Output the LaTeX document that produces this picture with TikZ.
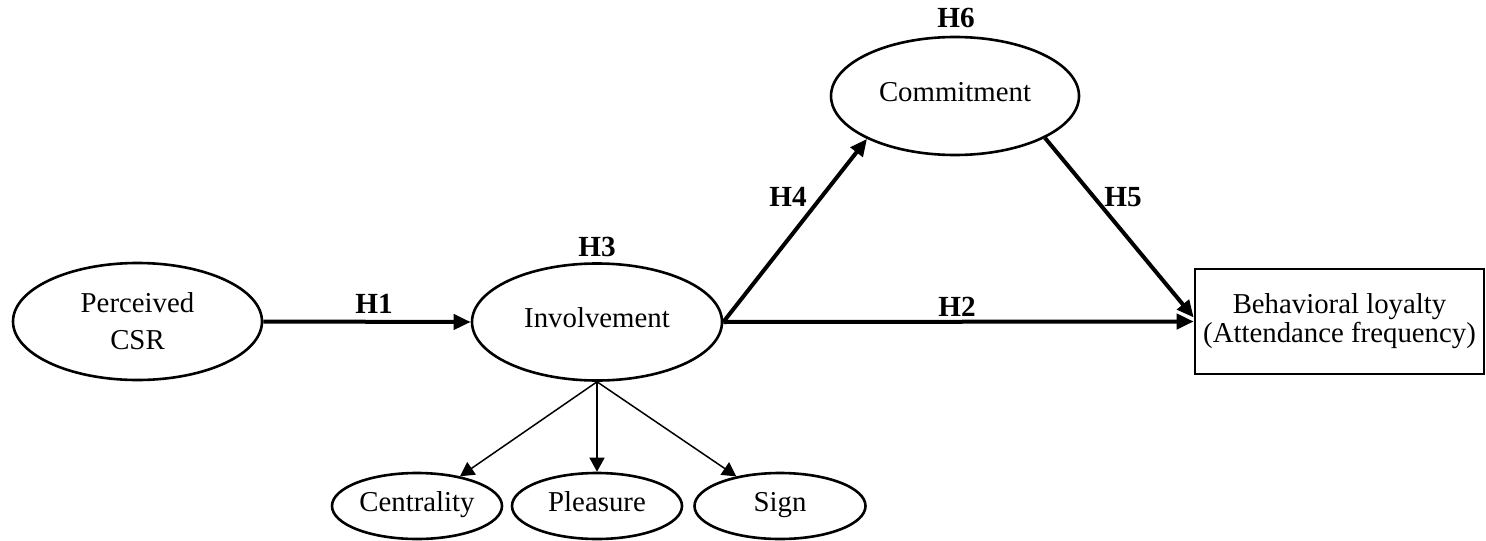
\documentclass[tikz,border=0pt]{standalone}
\usepackage{fontspec}
\setmainfont{Liberation Serif}
\usetikzlibrary{shapes.geometric,arrows.meta}
\begin{document}
\begin{tikzpicture}[x=0.5pt,y=-0.5pt,
  ell/.style={draw,ellipse,line width=1.3pt,inner sep=0pt,align=center,
    font=\fontsize{14.4}{18.5}\selectfont},
  oneline/.style={text height=0.7em,text depth=0.14em},
  hyp/.style={inner sep=0pt,font=\bfseries\fontsize{14.6}{17}\selectfont},
  bigarrow/.style={line width=2pt,-{Triangle[length=8.5pt,width=7.5pt]}},
  subarrow/.style={line width=0.75pt,-{Triangle[length=7pt,width=7.5pt]}}]
\useasboundingbox (0,0) rectangle (1486,540);
% nodes
\node[ell,minimum width=124.5pt,minimum height=58.5pt] (csr) at (137.5,321.5) {Perceived\\CSR};
\node[ell,oneline,minimum width=125pt,minimum height=58.5pt] (inv) at (597,322) {Involvement};
\node[ell,oneline,minimum width=124pt,minimum height=59pt] (com) at (955,96) {Commitment};
\node[draw,line width=1.3pt,minimum width=144.5pt,minimum height=52.5pt,inner sep=0pt,align=center,
  font=\fontsize{14.4}{14.5}\selectfont] (box) at (1339.5,321.5) {Behavioral loyalty\\(Attendance frequency)};
\node[ell,oneline,minimum width=85pt,minimum height=33pt] (cen) at (417,506) {Centrality};
\node[ell,oneline,minimum width=85pt,minimum height=33pt] (ple) at (597,506) {Pleasure};
\node[ell,oneline,minimum width=85.5pt,minimum height=33pt] (sig) at (780,506) {Sign};
% labels
\node[hyp] (h1) at (374,304) {H1};
\node[hyp] (h2) at (957,307) {H2};
\node[hyp] (h3) at (597,247) {H3};
\node[hyp] (h4) at (788,197) {H4};
\node[hyp] (h5) at (1123,197) {H5};
\node[hyp] (h6) at (956,18) {H6};
% connectors
\draw[bigarrow] (csr.east) -- (inv.west);
\draw[bigarrow] (inv.east) -- (box.west);
\draw[bigarrow] (inv.east) -- (com.-154);
\draw[bigarrow] (com.-25.5) -- ([yshift=2pt]box.west);
\draw[subarrow] (inv.south) -- (cen);
\draw[subarrow] (inv.south) -- (ple);
\draw[subarrow] (inv.south) -- (sig);
\end{tikzpicture}
\end{document}
